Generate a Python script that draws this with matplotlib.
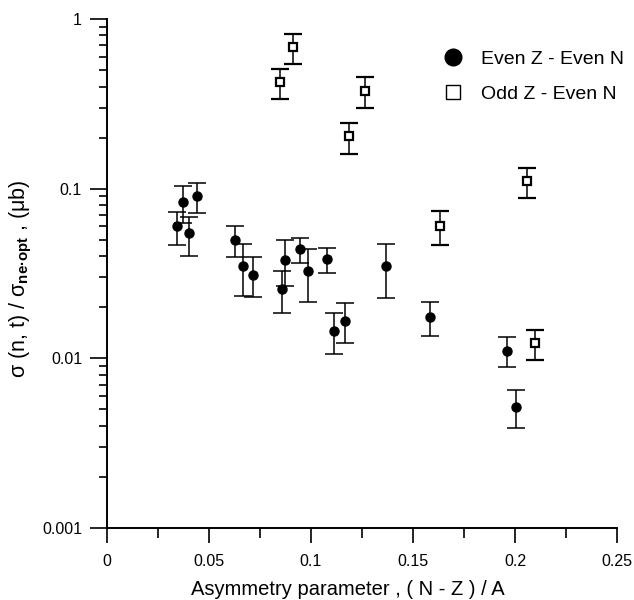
import matplotlib
matplotlib.use("Agg")
import matplotlib.pyplot as plt
from matplotlib.lines import Line2D

plt.rcParams['font.family'] = ['Liberation Sans', 'DejaVu Sans']
plt.rcParams['mathtext.fontset'] = 'custom'
plt.rcParams['mathtext.rm'] = 'Liberation Sans'
plt.rcParams['mathtext.bf'] = 'Liberation Sans:bold'
plt.rcParams['mathtext.it'] = 'Liberation Sans:italic'

# even Z - even N
ee_x = [0.0345, 0.0371, 0.0404, 0.0440, 0.0629, 0.0668, 0.0717, 0.0859, 0.0871,
        0.0946, 0.0985, 0.1077, 0.1114, 0.1167, 0.1368, 0.1582, 0.1962, 0.2003]
ee_y = [0.0603, 0.0832, 0.0546, 0.0902, 0.0497, 0.0352, 0.0309, 0.0255, 0.0380,
        0.0439, 0.0329, 0.0384, 0.01456, 0.01668, 0.0349, 0.01754, 0.0111, 0.00515]
ee_hi = [0.0733, 0.103, 0.0684, 0.108, 0.060, 0.0472, 0.0394, 0.0329, 0.0497,
         0.051, 0.0441, 0.0448, 0.01845, 0.0213, 0.047, 0.0216, 0.0133, 0.00648]
ee_lo = [0.0466, 0.0625, 0.0403, 0.0722, 0.0394, 0.0234, 0.023, 0.0184, 0.0266,
         0.0363, 0.0216, 0.0317, 0.0106, 0.01227, 0.0227, 0.0136, 0.00887, 0.00389]

# odd Z - even N
oe_x = [0.0850, 0.0910, 0.1186, 0.1266, 0.1634, 0.2060, 0.2100]
oe_y = [0.425, 0.681, 0.203, 0.378, 0.060, 0.111, 0.01227]
oe_hi = [0.509, 0.816, 0.243, 0.453, 0.0736, 0.133, 0.0147]
oe_lo = [0.339, 0.543, 0.161, 0.300, 0.0466, 0.0881, 0.0098]

xticks = [0, 0.05, 0.1, 0.15, 0.2, 0.25]
xticklabels = ['0', '0.05', '0.1', '0.15', '0.2', '0.25']
yticks = [0.001, 0.01, 0.1, 1]
yticklabels = ['0.001', '0.01', '0.1', '1']

fig = plt.figure(figsize=(6.34, 6.0), dpi=100)
ax = fig.add_axes([107/634, 72/600, 510/634, 509/600])

ee_err = [[y - l for y, l in zip(ee_y, ee_lo)], [h - y for y, h in zip(ee_y, ee_hi)]]
oe_err = [[y - l for y, l in zip(oe_y, oe_lo)], [h - y for y, h in zip(oe_y, oe_hi)]]

ax.errorbar(ee_x, ee_y, yerr=ee_err, fmt='o', color='black', ms=6.5,
            ecolor='black', elinewidth=1.1, capsize=6.5, capthick=1.1)
ax.errorbar(oe_x, oe_y, yerr=oe_err, fmt='s', mfc='white', mec='black', mew=1.6,
            ms=5.5, ecolor='black', elinewidth=1.1, capsize=6.5, capthick=1.1)

ax.set_yscale('log')
ax.set_xlim(0, 0.25)
ax.set_ylim(0.001, 1)
ax.set_xticks(xticks)
ax.set_xticklabels(xticklabels)
ax.set_xticks([0.025, 0.075, 0.125, 0.175, 0.225], minor=True)
ax.set_yticks(yticks)
ax.set_yticklabels(yticklabels)

for s in ['top', 'right']:
    ax.spines[s].set_visible(False)
for s in ['left', 'bottom']:
    ax.spines[s].set_linewidth(1.4)

ax.tick_params(axis='x', which='major', direction='out', length=11, width=1.2,
               labelsize=11.5, pad=8)
ax.tick_params(axis='x', which='minor', direction='out', length=7, width=1.2)
ax.tick_params(axis='y', which='major', direction='out', length=12, width=1.2,
               labelsize=11.5, pad=6)
ax.tick_params(axis='y', which='minor', direction='out', length=6, width=1.2,
               labelleft=False)

ax.set_xlabel('Asymmetry parameter , ( N - Z ) / A', fontsize=14.5)
ax.xaxis.set_label_coords(0.473, -0.102)
ax.set_ylabel('σ (n, t) / σ$_{\\mathbf{ne·opt}}$ , (μb)', fontsize=15.5)
ax.yaxis.set_label_coords(-0.143, 0.49)

handles = [Line2D([], [], ls='none', marker='o', color='black', ms=12),
           Line2D([], [], ls='none', marker='s', mfc='white', mec='black', mew=1.0, ms=10)]
ax.legend(handles, ['Even Z - Even N', 'Odd Z - Even N'], loc='upper left',
          bbox_to_anchor=(0.622, 0.9735), frameon=False, fontsize=14,
          handlelength=1.2, handletextpad=0.8, labelspacing=0.9)

fig.savefig('out.png', dpi=100)
